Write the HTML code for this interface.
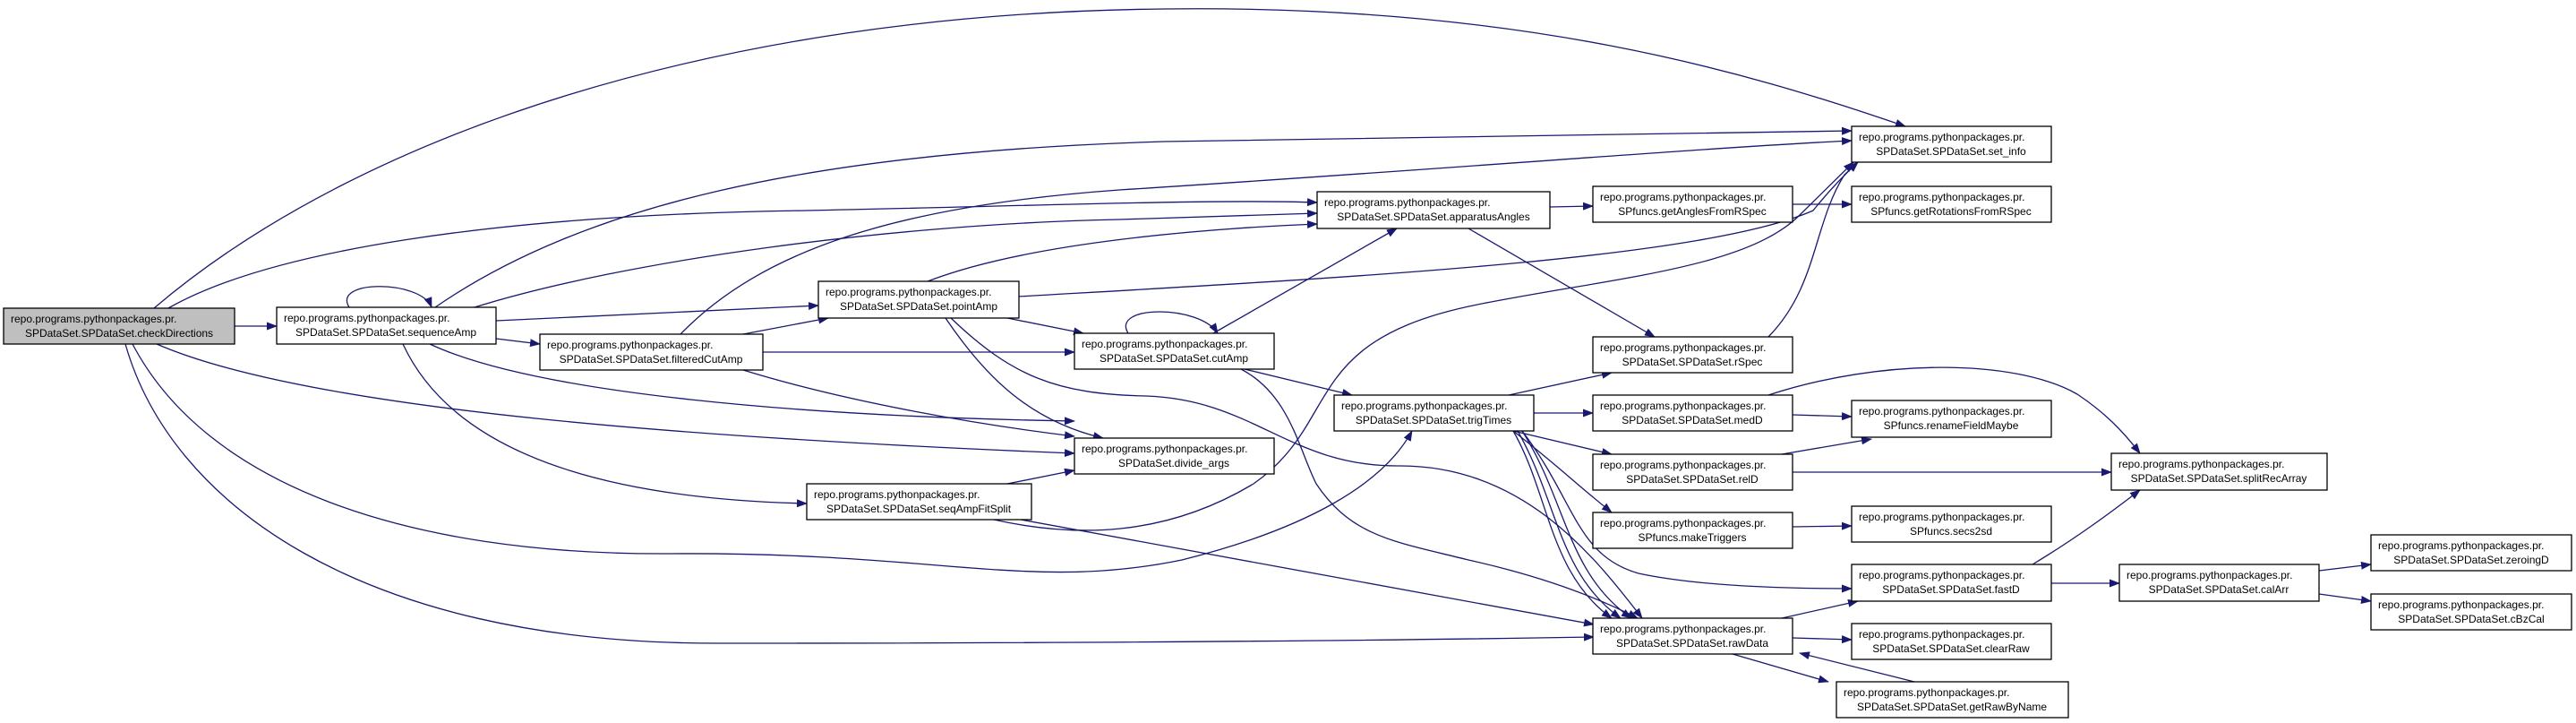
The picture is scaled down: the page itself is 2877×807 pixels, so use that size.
<!DOCTYPE html>
<html><head><meta charset="utf-8"><style>
html,body{margin:0;padding:0;background:#fff;}
svg{display:block;}
text{font-family:"Liberation Sans",Arial,sans-serif;font-size:12px;fill:#000;}
.e{fill:none;stroke:#191970;stroke-width:1.3;marker-end:url(#a);}
.n{fill:#fff;stroke:#000;stroke-width:1.3;}
</style></head><body>
<svg width="2877" height="807" viewBox="0 0 2877 807" xmlns="http://www.w3.org/2000/svg">
<defs><marker id="a" markerWidth="12" markerHeight="9" refX="11" refY="4.5" orient="auto" markerUnits="userSpaceOnUse"><path d="M0,0 L12,4.5 L0,9 z" fill="#191970"/></marker></defs>
<g>
<path class="e" d="M262,364 L309,364"/>
<path class="e" d="M172,344 C400,150 800,15 1300,10 C1700,5 1950,80 2128,141"/>
<path class="e" d="M188,344 C300,280 550,240 900,235 C1150,230 1350,222 1471,226"/>
<path class="e" d="M175,384 C350,460 800,490 1200,506"/>
<path class="e" d="M148,384 C230,540 450,620 750,618 C1050,616 1150,660 1320,625 C1460,590 1545,540 1577,481"/>
<path class="e" d="M140,384 C190,560 400,718 800,718 C1300,718 1600,714 1780,711"/>
<path class="e" d="M390,343 C370,312 470,312 482,343"/>
<path class="e" d="M486,343 C650,230 900,170 1300,158 C1700,150 1900,150 2068,146"/>
<path class="e" d="M530,343 C700,290 1000,250 1250,245 C1350,242 1420,240 1471,238"/>
<path class="e" d="M554,358 L914,341"/>
<path class="e" d="M554,378 L603,384"/>
<path class="e" d="M480,384 C600,440 900,465 1200,470"/>
<path class="e" d="M450,384 C490,470 600,555 901,562"/>
<path class="e" d="M830,373 L925,355"/>
<path class="e" d="M852,393 L1200,393"/>
<path class="e" d="M830,413 C950,450 1100,475 1200,487"/>
<path class="e" d="M760,373 C850,280 1000,230 1250,212 C1600,190 1900,165 2068,157"/>
<path class="e" d="M1036,314 C1150,270 1350,255 1471,250"/>
<path class="e" d="M1138,331 C1500,310 1900,290 2025,235 C2045,210 2060,195 2075,181"/>
<path class="e" d="M1125,355 L1210,372"/>
<path class="e" d="M1056,355 C1100,420 1150,470 1232,489"/>
<path class="e" d="M1062,355 C1130,420 1180,440 1280,442 C1400,446 1440,520 1560,520 C1700,518 1780,620 1834,690"/>
<path class="e" d="M1260,372 C1240,340 1340,340 1360,372"/>
<path class="e" d="M1355,372 L1560,255"/>
<path class="e" d="M1390,412 L1510,441"/>
<path class="e" d="M1386,412 C1440,440 1450,500 1470,540 C1510,600 1560,605 1640,625 C1730,645 1790,670 1829,690"/>
<path class="e" d="M1731,231 L1779,230"/>
<path class="e" d="M1640,255 L1848,376"/>
<path class="e" d="M2002,228 L2068,228"/>
<path class="e" d="M1975,376 C2030,320 2025,250 2060,195 L2075,181"/>
<path class="e" d="M1685,441 L1800,416"/>
<path class="e" d="M1713,461 L1779,461"/>
<path class="e" d="M1690,481 L1800,507"/>
<path class="e" d="M1690,481 C1740,520 1760,540 1800,572"/>
<path class="e" d="M1690,481 C1730,550 1730,640 1800,690"/>
<path class="e" d="M1695,481 C1740,560 1740,640 1810,690"/>
<path class="e" d="M1700,481 C1750,560 1750,640 1822,690"/>
<path class="e" d="M1700,481 C1760,560 1760,620 1830,640 C1900,655 2000,657 2068,657"/>
<path class="e" d="M2002,463 L2068,465"/>
<path class="e" d="M1975,441 C2100,400 2250,400 2320,440 C2350,460 2370,480 2390,506"/>
<path class="e" d="M1990,507 L2090,490"/>
<path class="e" d="M2002,527 L2358,527"/>
<path class="e" d="M2002,588 L2068,587"/>
<path class="e" d="M2270,630 C2320,600 2360,570 2390,547"/>
<path class="e" d="M2291,651 L2367,651"/>
<path class="e" d="M2590,637 L2648,630"/>
<path class="e" d="M2590,663 L2648,671"/>
<path class="e" d="M1990,690 L2075,671"/>
<path class="e" d="M2002,712 L2068,714"/>
<path class="e" d="M1935,730 L2042,761"/>
<path class="e" d="M2138,761 L2010,729"/>
<path class="e" d="M1125,540 L1200,525"/>
<path class="e" d="M1140,580 L1780,697"/>
<path class="e" d="M1110,580 C1200,600 1300,600 1400,540 C1500,470 1450,380 1650,340 C1800,310 1950,300 2010,240 L2070,181"/>
</g>
<g>
<rect x="4" y="344" width="258" height="40" fill="#bfbfbf" stroke="#000" stroke-width="1.3"/>
<text x="12" y="360">repo.programs.pythonpackages.pr.</text><text x="133" y="376" text-anchor="middle">SPDataSet.SPDataSet.checkDirections</text>

<rect class="n" x="309" y="343" width="245" height="41"/>
<text x="317" y="359">repo.programs.pythonpackages.pr.</text><text x="431" y="375" text-anchor="middle">SPDataSet.SPDataSet.sequenceAmp</text>

<rect class="n" x="603" y="373" width="249" height="40"/>
<text x="611" y="389">repo.programs.pythonpackages.pr.</text><text x="727" y="405" text-anchor="middle">SPDataSet.SPDataSet.filteredCutAmp</text>

<rect class="n" x="914" y="314" width="224" height="41"/>
<text x="922" y="330">repo.programs.pythonpackages.pr.</text><text x="1026" y="346" text-anchor="middle">SPDataSet.SPDataSet.pointAmp</text>

<rect class="n" x="901" y="540" width="251" height="40"/>
<text x="909" y="556">repo.programs.pythonpackages.pr.</text><text x="1026" y="572" text-anchor="middle">SPDataSet.SPDataSet.seqAmpFitSplit</text>

<rect class="n" x="1471" y="214" width="260" height="41"/>
<text x="1479" y="230">repo.programs.pythonpackages.pr.</text><text x="1601" y="246" text-anchor="middle">SPDataSet.SPDataSet.apparatusAngles</text>

<rect class="n" x="1200" y="372" width="223" height="40"/>
<text x="1208" y="388">repo.programs.pythonpackages.pr.</text><text x="1311" y="404" text-anchor="middle">SPDataSet.SPDataSet.cutAmp</text>

<rect class="n" x="1200" y="489" width="223" height="40"/>
<text x="1208" y="505">repo.programs.pythonpackages.pr.</text><text x="1311" y="521" text-anchor="middle">SPDataSet.divide_args</text>

<rect class="n" x="1490" y="441" width="223" height="40"/>
<text x="1498" y="457">repo.programs.pythonpackages.pr.</text><text x="1601" y="473" text-anchor="middle">SPDataSet.SPDataSet.trigTimes</text>

<rect class="n" x="1779" y="208" width="223" height="40"/>
<text x="1787" y="224">repo.programs.pythonpackages.pr.</text><text x="1890" y="240" text-anchor="middle">SPfuncs.getAnglesFromRSpec</text>

<rect class="n" x="1779" y="376" width="223" height="40"/>
<text x="1787" y="392">repo.programs.pythonpackages.pr.</text><text x="1890" y="408" text-anchor="middle">SPDataSet.SPDataSet.rSpec</text>

<rect class="n" x="1779" y="441" width="223" height="40"/>
<text x="1787" y="457">repo.programs.pythonpackages.pr.</text><text x="1890" y="473" text-anchor="middle">SPDataSet.SPDataSet.medD</text>

<rect class="n" x="1779" y="507" width="223" height="40"/>
<text x="1787" y="523">repo.programs.pythonpackages.pr.</text><text x="1890" y="539" text-anchor="middle">SPDataSet.SPDataSet.relD</text>

<rect class="n" x="1779" y="572" width="223" height="40"/>
<text x="1787" y="588">repo.programs.pythonpackages.pr.</text><text x="1890" y="604" text-anchor="middle">SPfuncs.makeTriggers</text>

<rect class="n" x="1779" y="690" width="223" height="40"/>
<text x="1787" y="706">repo.programs.pythonpackages.pr.</text><text x="1890" y="722" text-anchor="middle">SPDataSet.SPDataSet.rawData</text>

<rect class="n" x="2068" y="141" width="223" height="40"/>
<text x="2076" y="157">repo.programs.pythonpackages.pr.</text><text x="2179" y="173" text-anchor="middle">SPDataSet.SPDataSet.set_info</text>

<rect class="n" x="2068" y="208" width="223" height="40"/>
<text x="2076" y="224">repo.programs.pythonpackages.pr.</text><text x="2179" y="240" text-anchor="middle">SPfuncs.getRotationsFromRSpec</text>

<rect class="n" x="2068" y="447" width="223" height="41"/>
<text x="2076" y="463">repo.programs.pythonpackages.pr.</text><text x="2179" y="479" text-anchor="middle">SPfuncs.renameFieldMaybe</text>

<rect class="n" x="2068" y="565" width="223" height="40"/>
<text x="2076" y="581">repo.programs.pythonpackages.pr.</text><text x="2179" y="597" text-anchor="middle">SPfuncs.secs2sd</text>

<rect class="n" x="2068" y="630" width="223" height="41"/>
<text x="2076" y="646">repo.programs.pythonpackages.pr.</text><text x="2179" y="662" text-anchor="middle">SPDataSet.SPDataSet.fastD</text>

<rect class="n" x="2068" y="696" width="223" height="40"/>
<text x="2076" y="712">repo.programs.pythonpackages.pr.</text><text x="2179" y="728" text-anchor="middle">SPDataSet.SPDataSet.clearRaw</text>

<rect class="n" x="2051" y="761" width="259" height="40"/>
<text x="2059" y="777">repo.programs.pythonpackages.pr.</text><text x="2180" y="793" text-anchor="middle">SPDataSet.SPDataSet.getRawByName</text>

<rect class="n" x="2358" y="506" width="241" height="41"/>
<text x="2366" y="522">repo.programs.pythonpackages.pr.</text><text x="2478" y="538" text-anchor="middle">SPDataSet.SPDataSet.splitRecArray</text>

<rect class="n" x="2367" y="630" width="223" height="41"/>
<text x="2375" y="646">repo.programs.pythonpackages.pr.</text><text x="2478" y="662" text-anchor="middle">SPDataSet.SPDataSet.calArr</text>

<rect class="n" x="2648" y="597" width="224" height="40"/>
<text x="2656" y="613">repo.programs.pythonpackages.pr.</text><text x="2760" y="629" text-anchor="middle">SPDataSet.SPDataSet.zeroingD</text>

<rect class="n" x="2648" y="663" width="224" height="40"/>
<text x="2656" y="679">repo.programs.pythonpackages.pr.</text><text x="2760" y="695" text-anchor="middle">SPDataSet.SPDataSet.cBzCal</text>
</g>
</svg>
</body></html>
